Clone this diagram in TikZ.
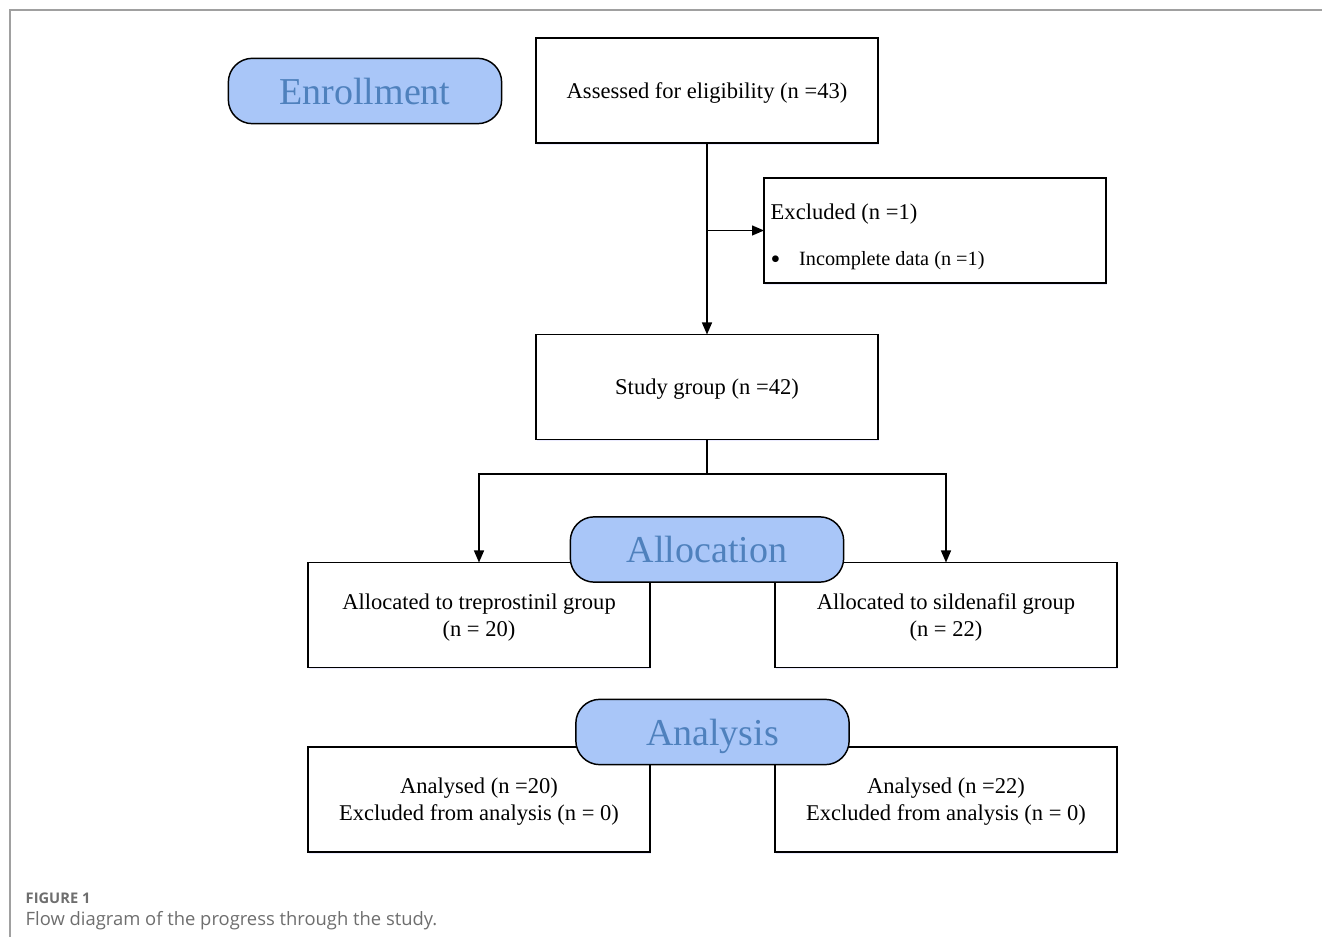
\documentclass[tikz,border=0pt]{standalone}
\usepackage{fontspec}
\setmainfont{Liberation Serif}
\newfontfamily\capfont{Open Sans}
\usetikzlibrary{arrows.meta, shadows}

\definecolor{phasefill}{RGB}{169,198,248}
\definecolor{phasetext}{RGB}{79,129,189}
\definecolor{framegray}{RGB}{160,160,160}
\definecolor{capgray}{RGB}{110,110,110}

\begin{document}
\begin{tikzpicture}[x=0.75pt, y=-0.75pt]
        \tikzstyle{box} = [draw, line width=1.1pt, minimum width=256.5pt, minimum height=78.75pt, outer sep=0pt, fill=white, drop shadow={shadow xshift=0.8pt, shadow yshift=-1.2pt, fill=blue!8, opacity=1}, font=\fontsize{16.9}{20.5}\selectfont, align=center, text depth=0pt]
        \tikzstyle{phase} = [draw, line width=1.1pt, rounded corners=18pt, minimum width=205pt, minimum height=49pt, outer sep=0pt, fill=phasefill, text=phasetext, font=\fontsize{28.5}{30}\selectfont, text depth=0pt]
        \tikzstyle{edge} = [line width=1pt]
        \tikzstyle{arrow} = [line width=1pt, -{Triangle[length=9pt, width=7.5pt]}]
        \useasboundingbox (0,0) rectangle (1322,937);
        \draw[framegray, line width=0.9pt] (10,937) -- (10,10) -- (1322,10);
        \node[phase] (enroll) at (365,91) {Enrollment};
        \node[box] (assess) at (707,90.5) {Assessed for eligibility (n =43)};
        \node[box] (excl) at (935,230.5) {};
        \node[anchor=west, font=\fontsize{16.9}{20}\selectfont] (exclA) at (766,214.5) {Excluded (n =1)};
        \node[anchor=west, font=\fontsize{15.2}{18}\selectfont] (exclB) at (766,260.5) {\raisebox{-2pt}{\fontsize{21}{18}\selectfont\textbullet}\hspace{14pt}Incomplete data (n =1)};
        \node[box] (study) at (707,387) {Study group (n =42)};
        \node[box] (treGrp) at (479,615) {Allocated to treprostinil group\\(n = 20)};
        \node[box] (silGrp) at (946,615) {Allocated to sildenafil group\\(n = 22)};
        \node[phase] (alloc) at (707,549.5) {Allocation};
        \node[box] (treAna) at (479,799.5) {Analysed (n =20)\\Excluded from analysis (n = 0)};
        \node[box] (silAna) at (946,799.5) {Analysed (n =22)\\Excluded from analysis (n = 0)};
        \node[phase] (analys) at (712.5,732) {Analysis};
        \coordinate (split) at (707,230.5);
        \coordinate (fork) at (707,474);
        \draw[arrow] (assess.south) -- (study.north);
        \draw[arrow] (split) -- (excl.west);
        \draw[edge] (study.south) -- (fork);
        \draw[arrow] (fork) -| (treGrp.north);
        \draw[arrow] (fork) -| (silGrp.north);
        \node[anchor=west, text=capgray, font=\capfont\fontsize{11}{12}\selectfont\bfseries] (figno) at (21,898) {FIGURE 1};
        \node[anchor=west, text=capgray, font=\capfont\fontsize{13.8}{15}\selectfont] (caption) at (21,921) {Flow diagram of the progress through the study.};
    \end{tikzpicture}
\end{document}
